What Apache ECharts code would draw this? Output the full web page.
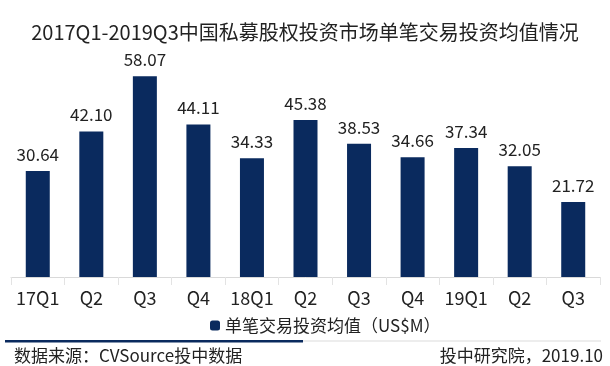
<!DOCTYPE html>
<html><head><meta charset="utf-8">
<script src="https://cdn.jsdelivr.net/npm/echarts@6/dist/echarts.min.js"></script>
<style>html,body{margin:0;padding:0;background:#fff}#c{width:610px;height:366px}</style>
</head><body><div id="c"></div>
<script>
const categories = ['17Q1','Q2','Q3','Q4','18Q1','Q2','Q3','Q4','19Q1','Q2','Q3'];
const values = [30.64,42.10,58.07,44.11,34.33,45.38,38.53,34.66,37.34,32.05,21.72];
const seriesName = '单笔交易投资均值（US$M）';
const titleText = '2017Q1-2019Q3中国私募股权投资市场单笔交易投资均值情况';
const sourceText = '数据来源：CVSource投中数据';
const creditText = '投中研究院，2019.10';

const FONT = '"Noto Sans CJK SC","Noto Sans",sans-serif';
const chart = echarts.init(document.getElementById('c'));
chart.setOption({
  animation: false,
  backgroundColor: '#fff',
  title: {text: titleText, left: 'center', top: 17, textStyle: {fontFamily: FONT, fontSize: 20, fontWeight: 'normal', color: '#222'}},
  grid: {left: 11, right: 10, top: 35, bottom: 89},
  legend: {data: [seriesName], left: 205, top: 312, itemWidth: 10, itemHeight: 10, itemGap: 5,
    textStyle: {fontFamily: FONT, fontSize: 17, color: '#222'}},
  xAxis: {type: 'category', data: categories,
    axisLine: {lineStyle: {color: '#d9d9d9'}},
    axisTick: {show: true, length: 8, interval: 0, lineStyle: {color: '#e3e3e3'}},
    axisLabel: {interval: 0, hideOverlap: false, fontFamily: FONT, fontSize: 18, color: '#222', margin: 12}},
  yAxis: {type: 'value', min: 0, max: 70, show: false, splitLine: {show: false}},
  series: [{name: seriesName, type: 'bar', data: values, barWidth: 24,
    itemStyle: {color: '#0a2a5e'},
    label: {show: true, position: 'top', distance: 8, fontFamily: FONT, fontSize: 17, color: '#222',
      formatter: p => p.value.toFixed(2)}}],
  graphic: [
    {type: 'rect', shape: {x: 5, y: 340.5, width: 596, height: 1}, style: {fill: '#dcdcdc'}},
    {type: 'rect', shape: {x: 5, y: 340, width: 298, height: 2.5}, style: {fill: '#0a2a5e'}},
    {type: 'text', left: 14, top: 347, style: {text: sourceText, font: '17px ' + FONT, fill: '#222'}},
    {type: 'text', right: 7, top: 347, style: {text: creditText, font: '17px ' + FONT, fill: '#222'}}
  ]
});
</script></body></html>
